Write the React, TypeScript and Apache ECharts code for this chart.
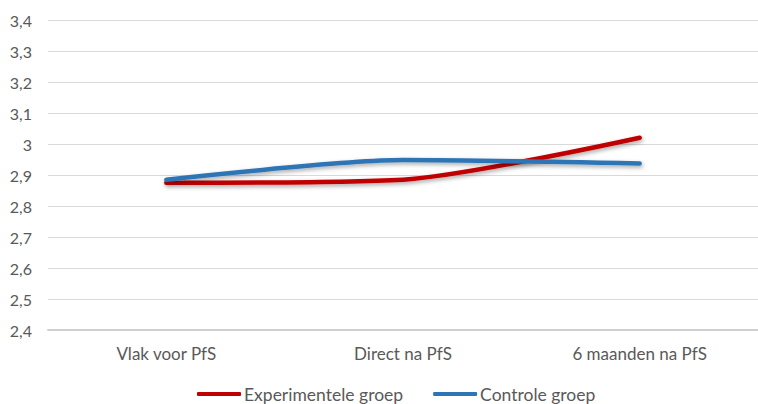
import React, { useEffect, useRef } from "react";
import * as echarts from "echarts";

const categories = ["Vlak voor PfS", "Direct na PfS", "6 maanden na PfS"];
const experimenteleGroep = [2.875, 2.885, 3.02];
const controleGroep = [2.885, 2.948, 2.937];
const seriesNames = ["Experimentele groep", "Controle groep"];
const yMin = 2.4;
const yMax = 3.4;
const yInterval = 0.1;

const FONT = "Lato, 'Open Sans', sans-serif";
const TEXT = "#595959";

export default function App() {
  const ref = useRef<HTMLDivElement>(null);
  useEffect(() => {
    document.body.style.margin = "0";
    const chart = echarts.init(ref.current!, null, { renderer: "svg" });
    const lineShadow = {
      shadowColor: "rgba(0,0,0,0.35)",
      shadowBlur: 4,
      shadowOffsetX: 1,
      shadowOffsetY: 2,
    };
    chart.setOption({
      animation: false,
      grid: { left: 48, top: 20, width: 714, height: 310, containLabel: false },
      xAxis: {
        type: "category",
        data: categories,
        boundaryGap: true,
        axisLine: { show: true, lineStyle: { color: "#d0d0d0", width: 2 } },
        axisTick: { show: false },
        axisLabel: { color: TEXT, fontFamily: FONT, fontSize: 17, margin: 15 },
      },
      yAxis: {
        type: "value",
        min: yMin,
        max: yMax,
        interval: yInterval,
        axisLine: { show: false },
        axisTick: { show: false },
        splitLine: { lineStyle: { color: "#d9d9d9", width: 1 } },
        axisLabel: {
          color: TEXT,
          fontFamily: FONT,
          fontSize: 16,
          margin: 16,
          formatter: (v: number) => String(Math.round(v * 10) / 10).replace(".", ","),
        },
      },
      legend: {
        top: 380,
        left: 192,
        itemWidth: 44,
        itemHeight: 4,
        itemGap: 30,
        icon: "roundRect",
        textStyle: { color: TEXT, fontFamily: FONT, fontSize: 17.5, padding: [0, 0, 0, -2] },
        data: seriesNames,
      },
      series: [
        {
          name: seriesNames[0],
          type: "line",
          data: experimenteleGroep,
          smooth: 0.25,
          showSymbol: false,
          symbol: "none",
          itemStyle: { color: "#C00000" },
          lineStyle: { color: "#C00000", width: 4.5, cap: "round", ...lineShadow },
        },
        {
          name: seriesNames[1],
          type: "line",
          data: controleGroep,
          smooth: 0.25,
          showSymbol: false,
          symbol: "none",
          itemStyle: { color: "#2E75B6" },
          lineStyle: { color: "#2E75B6", width: 4.5, cap: "round", ...lineShadow },
        },
      ],
    });
    return () => chart.dispose();
  }, []);
  return <div ref={ref} style={{ width: 758, height: 404 }} />;
}
